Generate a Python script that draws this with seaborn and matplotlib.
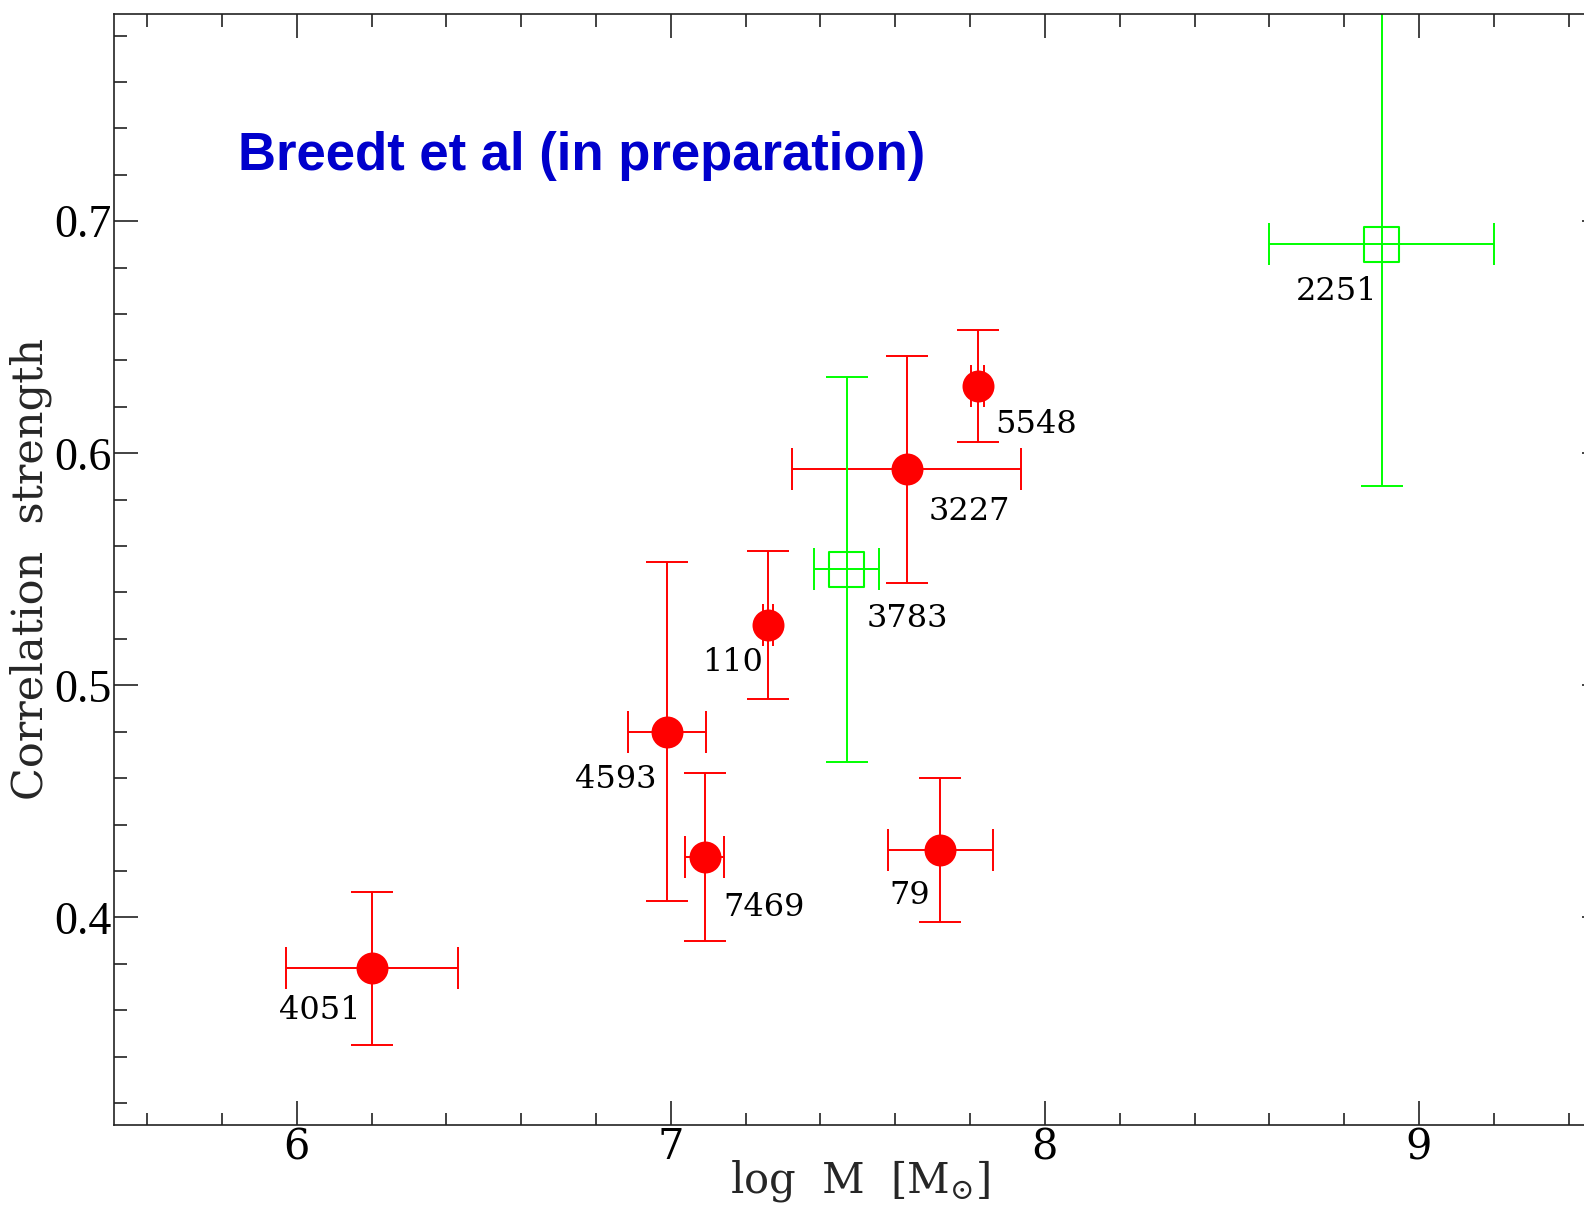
import numpy as np
import pandas as pd
import matplotlib
matplotlib.use('Agg')
import matplotlib.pyplot as plt
import seaborn as sns
from matplotlib.ticker import MultipleLocator, FormatStrFormatter

# values
names = ['4051', '4593', '7469', '110', '79', '3227', '5548', '3783', '2251']
log_mass = [6.20, 6.99, 7.09, 7.26, 7.72, 7.63, 7.82, 7.47, 8.90]
corr = [0.378, 0.480, 0.426, 0.526, 0.429, 0.593, 0.629, 0.550, 0.690]
mass_err = [0.23, 0.105, 0.052, 0.013, 0.14, 0.307, 0.018, 0.087, 0.30]
corr_err = [0.033, 0.073, 0.036, 0.032, 0.031, 0.049, 0.024, 0.083, 0.104]
group = ['red'] * 7 + ['green'] * 2

# label offsets from the point (pixels, y down is negative)
label_dx = [-52, -51, 60, -36, -30, 63, 59, 61, -45]
label_dy = [-42, -48, -50, -38, -45, -42, -39, -49, -47]

df = pd.DataFrame({'name': names, 'logM': log_mass, 'corr': corr,
                   'xerr': mass_err, 'yerr': corr_err, 'group': group})

sns.set_theme(style="ticks")
plt.rcParams['font.family'] = ['DejaVu Serif']
plt.rcParams['mathtext.fontset'] = 'dejavuserif'

RED = '#ff0000'
GREEN = '#00ff00'

fig = plt.figure(figsize=(15.84, 12.07), dpi=100)
ax = fig.add_axes([0.0720, 0.0679, 0.9419, 0.9209])

for g, col in [('red', RED), ('green', GREEN)]:
    sub = df[df['group'] == g]
    ax.errorbar(sub['logM'], sub['corr'], xerr=sub['xerr'], yerr=sub['yerr'],
                fmt='none', ecolor=col, elinewidth=1.4, capsize=15, capthick=1.4,
                zorder=2)

sns.scatterplot(data=df[df['group'] == 'red'], x='logM', y='corr', ax=ax,
                color=RED, edgecolor=RED, s=530, marker='o', linewidth=0,
                zorder=3, legend=False)
sns.scatterplot(data=df[df['group'] == 'green'], x='logM', y='corr', ax=ax,
                facecolor='none', edgecolor=GREEN, s=620, marker='s',
                linewidth=1.5, zorder=3, legend=False)

for i, row in df.iterrows():
    ax.annotate(row['name'], (row['logM'], row['corr']),
                xytext=(label_dx[i], label_dy[i]), textcoords='offset pixels',
                ha='center', va='center', fontsize=23, color='black')

ax.text(0.083, 0.859, 'Breedt et al (in preparation)', transform=ax.transAxes,
        fontsize=38, fontweight='bold', color='#0000cc',
        family='Liberation Sans', va='baseline', ha='left')

ax.set_xlim(5.5115, 9.5)
ax.set_ylim(0.3105, 0.7895)
ax.xaxis.set_major_locator(MultipleLocator(1))
ax.xaxis.set_minor_locator(MultipleLocator(0.2))
ax.yaxis.set_major_locator(MultipleLocator(0.1))
ax.yaxis.set_minor_locator(MultipleLocator(0.02))
ax.yaxis.set_major_formatter(FormatStrFormatter('%.1f'))
ax.xaxis.set_major_formatter(FormatStrFormatter('%d'))

ax.tick_params(which='both', direction='in', top=True, right=True,
               colors='#222222', labelcolor='black', width=1.2)
ax.tick_params(which='major', length=17)
ax.tick_params(which='minor', length=9)
ax.tick_params(axis='x', pad=1, labelsize=30)
ax.tick_params(axis='y', pad=2, labelsize=33)
for lab in ax.get_yticklabels():
    lab.set_family('Liberation Serif')

for s in ax.spines.values():
    s.set_color('#222222')
    s.set_linewidth(1.2)

ax.set_xlabel(r'log  M  [M$_{\odot}$]', fontsize=30)
ax.set_ylabel('Correlation  strength', fontsize=31)
ax.xaxis.set_label_coords(0.5, -0.030)
ax.yaxis.set_label_coords(-0.0415, 0.5)

fig.savefig('out.png', dpi=100)
